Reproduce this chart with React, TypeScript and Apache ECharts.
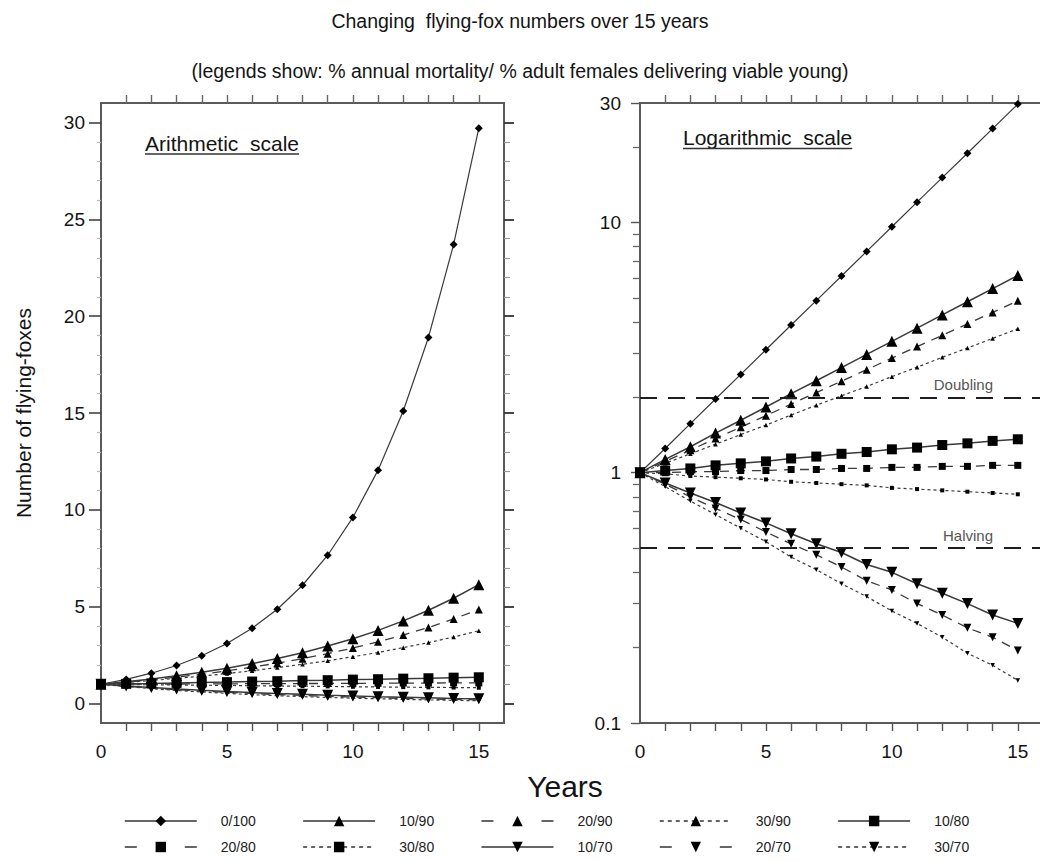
import React, { useEffect, useRef } from "react";
import * as echarts from "echarts";

// ---------- data ----------
const years = [0, 1, 2, 3, 4, 5, 6, 7, 8, 9, 10, 11, 12, 13, 14, 15];

const seriesNames = ["0/100", "10/90", "20/90", "30/90", "10/80", "20/80", "30/80", "10/70", "20/70", "30/70"];
const legendRow1 = ["0/100", "10/90", "20/90", "30/90", "10/80"];
const legendRow2 = ["20/80", "30/80", "10/70", "20/70", "30/70"];

const v0_100 = [1, 1.25, 1.57, 1.97, 2.47, 3.1, 3.89, 4.87, 6.11, 7.66, 9.61, 12.05, 15.1, 18.9, 23.7, 29.7];
const v10_90 = [1, 1.13, 1.27, 1.44, 1.62, 1.83, 2.07, 2.33, 2.63, 2.97, 3.35, 3.78, 4.27, 4.82, 5.44, 6.14];
const v20_90 = [1, 1.11, 1.23, 1.37, 1.52, 1.69, 1.88, 2.09, 2.32, 2.58, 2.87, 3.19, 3.54, 3.93, 4.37, 4.86];
const v30_90 = [1, 1.09, 1.19, 1.3, 1.42, 1.55, 1.7, 1.86, 2.03, 2.21, 2.42, 2.64, 2.89, 3.15, 3.44, 3.76];
const v10_80 = [1, 1.02, 1.04, 1.07, 1.09, 1.11, 1.14, 1.16, 1.19, 1.21, 1.24, 1.26, 1.29, 1.31, 1.34, 1.36];
const v20_80 = [1, 1.0, 1.01, 1.01, 1.02, 1.02, 1.03, 1.03, 1.04, 1.04, 1.05, 1.05, 1.06, 1.06, 1.07, 1.07];
const v30_80 = [1, 0.99, 0.97, 0.96, 0.95, 0.94, 0.92, 0.91, 0.9, 0.89, 0.87, 0.86, 0.85, 0.84, 0.83, 0.82];
const v10_70 = [1, 0.91, 0.83, 0.76, 0.69, 0.63, 0.57, 0.52, 0.48, 0.43, 0.4, 0.36, 0.33, 0.3, 0.27, 0.25];
const v20_70 = [1, 0.9, 0.8, 0.72, 0.65, 0.58, 0.52, 0.47, 0.42, 0.37, 0.34, 0.3, 0.27, 0.24, 0.22, 0.195];
const v30_70 = [1, 0.88, 0.77, 0.68, 0.6, 0.53, 0.46, 0.41, 0.36, 0.32, 0.28, 0.25, 0.22, 0.19, 0.17, 0.148];

const valuesByName: Record<string, number[]> = {
  "0/100": v0_100,
  "10/90": v10_90,
  "20/90": v20_90,
  "30/90": v30_90,
  "10/80": v10_80,
  "20/80": v20_80,
  "30/80": v30_80,
  "10/70": v10_70,
  "20/70": v20_70,
  "30/70": v30_70,
};

const xTickYears = [1, 2, 3, 4, 5, 6, 7, 8, 9, 10, 11, 12, 13, 14, 15];
const xLabelYears = [0, 5, 10, 15];
const arithMajorTicks = [0, 5, 10, 15, 20, 25, 30];
const arithMinorTicks = [1, 2, 3, 4, 6, 7, 8, 9, 11, 12, 13, 14, 16, 17, 18, 19, 21, 22, 23, 24, 26, 27, 28, 29];
const logMinorTicks = [0.2, 0.3, 0.4, 0.5, 0.6, 0.7, 0.8, 0.9, 2, 3, 4, 5, 6, 7, 8, 9, 20];
const doublingLevel = 2;
const halvingLevel = 0.5;

const titleText = "Changing  flying-fox numbers over 15 years";
const subtitleText = "(legends show: % annual mortality/ % adult females delivering viable young)";
const yAxisTitle = "Number of flying-foxes";
const xAxisTitle = "Years";
const leftPanelLabel = "Arithmetic  scale";
const rightPanelLabel = "Logarithmic  scale";

// ---------- styles ----------
const FONT = '"Liberation Sans", Arial, Helvetica, sans-serif';
const TEXT = "#141414";
const FRAME = "#5a5a5a";
const TICK_FONT = 19;
const PANEL_FONT = 21;

type SStyle = { symbol: string; size: number; rotate: number; dash: any; legendDash: any; width: number };
const STYLES: Record<string, SStyle> = {
  "0/100": { symbol: "diamond", size: 8, rotate: 0, dash: "solid", legendDash: "solid", width: 1.2 },
  "10/90": { symbol: "triangle", size: 11, rotate: 0, dash: "solid", legendDash: "solid", width: 1.5 },
  "20/90": { symbol: "triangle", size: 8, rotate: 0, dash: [9, 7], legendDash: [12, 48], width: 1.3 },
  "30/90": { symbol: "triangle", size: 4.5, rotate: 0, dash: [3, 3], legendDash: [4, 4], width: 1.2 },
  "10/80": { symbol: "rect", size: 10, rotate: 0, dash: "solid", legendDash: "solid", width: 1.5 },
  "20/80": { symbol: "rect", size: 7, rotate: 0, dash: [9, 7], legendDash: [12, 48], width: 1.3 },
  "30/80": { symbol: "rect", size: 4, rotate: 0, dash: [3, 3], legendDash: [4, 4], width: 1.2 },
  "10/70": { symbol: "triangle", size: 11, rotate: 180, dash: "solid", legendDash: "solid", width: 1.5 },
  "20/70": { symbol: "triangle", size: 8, rotate: 180, dash: [9, 7], legendDash: [12, 48], width: 1.3 },
  "30/70": { symbol: "triangle", size: 4.5, rotate: 180, dash: [3, 3], legendDash: [4, 4], width: 1.2 },
};

function measure(text: string, size: number): number {
  const ctx = document.createElement("canvas").getContext("2d");
  if (!ctx) return text.length * size * 0.5;
  ctx.font = `${size}px ${FONT}`;
  return ctx.measureText(text).width;
}

function makeSeries(name: string, xi: number, yi: number, mark: boolean): any {
  const st = STYLES[name];
  const vals = valuesByName[name];
  const s: any = {
    type: "line",
    name,
    xAxisIndex: xi,
    yAxisIndex: yi,
    data: years.map((y, i) => [y, vals[i]]),
    symbol: st.symbol,
    symbolSize: st.size,
    symbolRotate: st.rotate,
    showSymbol: true,
    lineStyle: { color: "#3a3a3a", width: st.width, type: st.dash },
    itemStyle: { color: "#000", borderWidth: 0 },
    emphasis: { disabled: true },
    silent: true,
    animation: false,
    z: 3,
  };
  if (mark) {
    s.markLine = {
      silent: true,
      animation: false,
      symbol: ["none", "none"],
      lineStyle: { color: "#1e1e1e", width: 2, type: [17, 11] },
      label: {
        show: true,
        position: "insideEndTop",
        formatter: "{b}",
        fontFamily: FONT,
        fontSize: 15,
        color: "#555",
        padding: [0, 45, 0, 0],
      },
      emphasis: { disabled: true },
      data: [
        { name: "Doubling", yAxis: doublingLevel },
        { name: "Halving", yAxis: halvingLevel },
      ],
    };
  }
  return s;
}

const tickStyle = (color: string, width = 1.4) => ({ color, width });

function xAxes(gridIndex: number): any[] {
  return [
    {
      gridIndex,
      type: "value",
      position: "bottom",
      min: 0,
      max: 16,
      interval: 1,
      axisLine: { show: false, onZero: false },
      axisTick: { show: true, length: 8, customValues: xTickYears, lineStyle: tickStyle("#555") },
      axisLabel: {
        show: true,
        customValues: xLabelYears,
        margin: 19,
        fontSize: TICK_FONT,
        fontFamily: FONT,
        color: TEXT,
      },
      splitLine: { show: false },
    },
    {
      gridIndex,
      type: "value",
      position: "top",
      min: 0,
      max: 16,
      interval: 1,
      axisLine: { show: false, onZero: false },
      axisTick: { show: true, length: 8, customValues: xTickYears, lineStyle: tickStyle("#666") },
      axisLabel: { show: false },
      splitLine: { show: false },
    },
  ];
}

function legendItems(names: string[]): any[] {
  return names.map((n) => ({
    name: n,
    lineStyle: { type: STYLES[n].legendDash, width: 1.6, color: "#333" },
  }));
}

function buildOption(): any {
  const lw = measure(leftPanelLabel, PANEL_FONT);
  const rw = measure(rightPanelLabel, PANEL_FONT);

  const series: any[] = [];
  seriesNames.forEach((n) => series.push(makeSeries(n, 0, 0, false)));
  seriesNames.forEach((n, i) => series.push(makeSeries(n, 2, 4, i === 0)));

  const legendBase = {
    orient: "horizontal",
    left: 124,
    padding: 0,
    itemWidth: 72,
    itemHeight: 13,
    itemGap: 46.5,
    selectedMode: false,
    textStyle: { fontSize: 14, fontFamily: FONT, color: "#222", padding: [0, 0, 0, 19] },
  };

  const panelText = (x: number, y: number, text: string) => ({
    type: "text",
    x,
    y,
    silent: true,
    style: {
      text,
      fontSize: PANEL_FONT,
      fontFamily: FONT,
      fill: TEXT,
      align: "left",
      verticalAlign: "middle",
      textAlign: "left",
      textVerticalAlign: "middle",
    },
  });

  return {
    animation: false,
    backgroundColor: "#fff",
    textStyle: { fontFamily: FONT },
    title: [
      {
        text: titleText,
        left: "center",
        top: 11,
        padding: 0,
        textStyle: { fontSize: 19.5, fontWeight: "normal", color: TEXT, fontFamily: FONT },
      },
      {
        text: subtitleText,
        left: "center",
        top: 61,
        padding: 0,
        textStyle: { fontSize: 19.5, fontWeight: "normal", color: TEXT, fontFamily: FONT },
      },
    ],
    legend: [
      { ...legendBase, top: 814, data: legendItems(legendRow1) },
      { ...legendBase, top: 840, data: legendItems(legendRow2) },
    ],
    grid: [
      {
        left: 101,
        top: 103,
        width: 403,
        height: 620,
        show: true,
        borderColor: FRAME,
        borderWidth: 2,
        backgroundColor: "transparent",
        outerBoundsMode: "none",
        containLabel: false,
      },
      {
        left: 640,
        top: 103,
        width: 403,
        height: 620,
        show: true,
        borderColor: FRAME,
        borderWidth: 2,
        backgroundColor: "transparent",
        outerBoundsMode: "none",
        containLabel: false,
      },
    ],
    xAxis: [...xAxes(0), ...xAxes(1)],
    yAxis: [
      {
        gridIndex: 0,
        type: "value",
        position: "left",
        min: -1,
        max: 31,
        axisLine: { show: false, onZero: false },
        axisTick: { show: true, length: 12, customValues: arithMajorTicks, lineStyle: tickStyle("#444", 1.6) },
        axisLabel: {
          show: true,
          customValues: arithMajorTicks,
          margin: 16,
          fontSize: TICK_FONT,
          fontFamily: FONT,
          color: TEXT,
        },
        splitLine: { show: false },
        name: yAxisTitle,
        nameLocation: "middle",
        nameRotate: 90,
        nameGap: 67,
        nameTextStyle: { fontSize: 21, fontFamily: FONT, color: TEXT },
      },
      {
        gridIndex: 0,
        type: "value",
        position: "left",
        min: -1,
        max: 31,
        axisLine: { show: false, onZero: false },
        axisTick: { show: true, length: 4, customValues: arithMinorTicks, lineStyle: tickStyle("#bbb", 1.2) },
        axisLabel: { show: false },
        splitLine: { show: false },
      },
      {
        gridIndex: 0,
        type: "value",
        position: "right",
        min: -1,
        max: 31,
        axisLine: { show: false, onZero: false },
        axisTick: { show: true, length: 10, customValues: arithMajorTicks, lineStyle: tickStyle("#333", 1.8) },
        axisLabel: { show: false },
        splitLine: { show: false },
      },
      {
        gridIndex: 0,
        type: "value",
        position: "right",
        min: -1,
        max: 31,
        axisLine: { show: false, onZero: false },
        axisTick: { show: true, length: 6, customValues: arithMinorTicks, lineStyle: tickStyle("#999", 1.2) },
        axisLabel: { show: false },
        splitLine: { show: false },
      },
      {
        gridIndex: 1,
        type: "log",
        logBase: 10,
        position: "left",
        min: 0.1,
        max: 30,
        axisLine: { show: false, onZero: false },
        axisTick: { show: true, length: 9, lineStyle: tickStyle("#555") },
        axisLabel: {
          show: true,
          margin: 19,
          fontSize: TICK_FONT,
          fontFamily: FONT,
          color: TEXT,
          formatter: (v: number) => (v < 1 ? v.toFixed(1) : String(Math.round(v))),
        },
        splitLine: { show: false },
        minorTick: { show: false },
      },
      {
        gridIndex: 1,
        type: "value",
        position: "left",
        min: -1,
        max: Math.log10(30),
        axisLine: { show: false, onZero: false },
        axisTick: {
          show: true,
          length: 7,
          customValues: logMinorTicks.map((t) => Math.log10(t)),
          lineStyle: tickStyle("#666", 1.3),
        },
        axisLabel: { show: false },
        splitLine: { show: false },
      },
    ],
    series,
    graphic: [
      panelText(145, 143.5, leftPanelLabel),
      {
        type: "line",
        silent: true,
        shape: { x1: 145, y1: 154, x2: 145 + lw, y2: 154 },
        style: { stroke: "#333", lineWidth: 1.5 },
      },
      panelText(683, 137.5, rightPanelLabel),
      {
        type: "line",
        silent: true,
        shape: { x1: 683, y1: 148.5, x2: 683 + rw, y2: 148.5 },
        style: { stroke: "#333", lineWidth: 1.5 },
      },
      {
        type: "text",
        x: 565,
        y: 786,
        silent: true,
        style: {
          text: xAxisTitle,
          fontSize: 30,
          fontFamily: FONT,
          fill: TEXT,
          align: "center",
          verticalAlign: "middle",
          textAlign: "center",
          textVerticalAlign: "middle",
        },
      },
    ],
  };
}

export default function App() {
  const ref = useRef<HTMLDivElement | null>(null);
  useEffect(() => {
    if (!ref.current) return;
    const chart = echarts.init(ref.current, undefined, { renderer: "svg" });
    chart.setOption(buildOption());
    return () => {
      chart.dispose();
    };
  }, []);
  return (
    <div
      ref={ref}
      style={{ position: "absolute", left: 0, top: 0, width: "1040px", height: "861px", background: "#fff" }}
    />
  );
}
